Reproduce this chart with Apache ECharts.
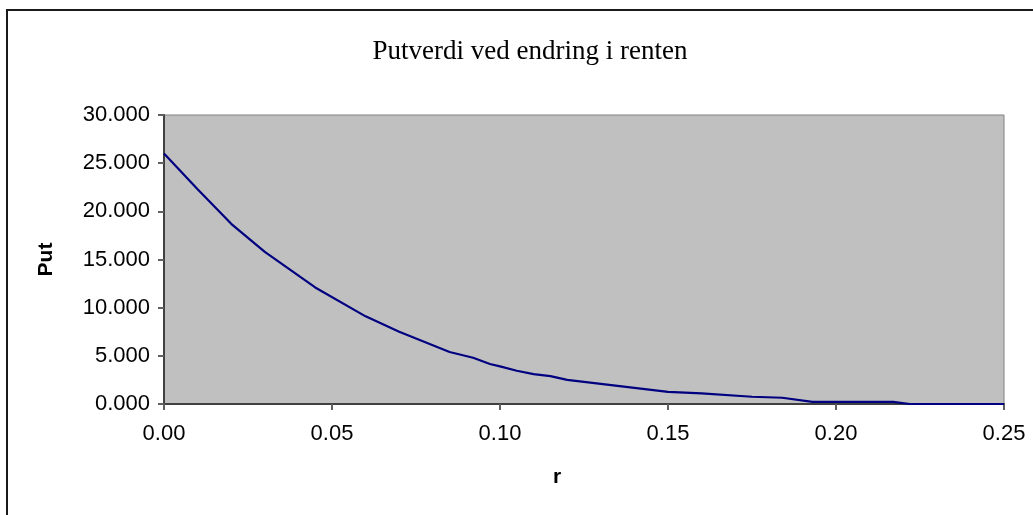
<!DOCTYPE html>
<html>
<head>
<meta charset="utf-8">
<script src="https://cdn.jsdelivr.net/npm/echarts@6/dist/echarts.min.js"></script>
<style>
  html, body { margin: 0; padding: 0; background: #fff; }
  #chart { width: 1033px; height: 515px; }
</style>
</head>
<body>
<div id="chart"></div>
<script>
// Interest rate (r) and the corresponding put value
const rates = [0, 0.01, 0.02, 0.03, 0.045, 0.06, 0.07, 0.085, 0.092, 0.097, 0.1, 0.105, 0.11, 0.115, 0.12, 0.15, 0.16, 0.175, 0.184, 0.193, 0.217, 0.222, 0.25];
const putValues = [26000, 22300, 18700, 15800, 12100, 9100, 7500, 5400, 4800, 4150, 3900, 3450, 3100, 2900, 2500, 1250, 1100, 750, 650, 220, 220, 0, 0];
const yTicks = [0, 5000, 10000, 15000, 20000, 25000, 30000];
const xTicks = [0, 0.05, 0.1, 0.15, 0.2, 0.25];

const chartTitle = 'Putverdi ved endring i renten';
const xName = 'r';
const yName = 'Put';

const chart = echarts.init(document.getElementById('chart'), null, { renderer: 'canvas' });

// Norwegian style: dot as thousands separator, shown with three decimals of thousands
const fmtY = v => (v / 1000).toFixed(3);
const fmtX = v => v.toFixed(2);

chart.setOption({
  animation: false,
  backgroundColor: '#ffffff',
  graphic: [{
    type: 'rect',
    shape: { x: 7, y: 10, width: 1100, height: 600 },
    style: { fill: 'none', stroke: '#1a1a1a', lineWidth: 2 },
    silent: true,
    z: -1
  }],
  title: {
    text: chartTitle,
    left: 525,
    top: 33,
    textAlign: 'center',
    textStyle: { fontFamily: 'Liberation Serif', fontSize: 27, fontWeight: 'normal', color: '#000' }
  },
  grid: {
    left: 164, right: 29, top: 115, bottom: 111,
    show: true,
    backgroundColor: '#c0c0c0',
    borderColor: '#808080',
    borderWidth: 1
  },
  xAxis: {
    type: 'value',
    min: xTicks[0],
    max: xTicks[xTicks.length - 1],
    interval: 0.05,
    name: xName,
    nameLocation: 'middle',
    nameGap: 63,
    nameTextStyle: { fontFamily: 'Liberation Sans', fontSize: 21, fontWeight: 'bold', color: '#000', padding: [0, 54, 0, 0] },
    axisLine: { show: true, lineStyle: { color: '#404040', width: 2 } },
    axisTick: { show: true, length: 6, lineStyle: { color: '#606060', width: 2 } },
    axisLabel: { formatter: fmtX, margin: 19, fontFamily: 'Liberation Sans', fontSize: 22, color: '#000' },
    splitLine: { show: false }
  },
  yAxis: {
    type: 'value',
    min: yTicks[0],
    max: yTicks[yTicks.length - 1],
    interval: 5000,
    name: yName,
    nameLocation: 'middle',
    nameRotate: 90,
    nameGap: 107,
    nameTextStyle: { fontFamily: 'Liberation Sans', fontSize: 21, fontWeight: 'bold', color: '#000' },
    axisLine: { show: true, lineStyle: { color: '#404040', width: 2 } },
    axisTick: { show: true, length: 6, lineStyle: { color: '#606060', width: 2 } },
    axisLabel: { formatter: fmtY, margin: 14, fontFamily: 'Liberation Sans', fontSize: 22, color: '#000' },
    splitLine: { show: false }
  },
  series: [{
    type: 'line',
    data: rates.map((r, i) => [r, putValues[i]]),
    showSymbol: false,
    lineStyle: { color: '#000080', width: 2.2 },
    clip: true
  }]
});
</script>
</body>
</html>
